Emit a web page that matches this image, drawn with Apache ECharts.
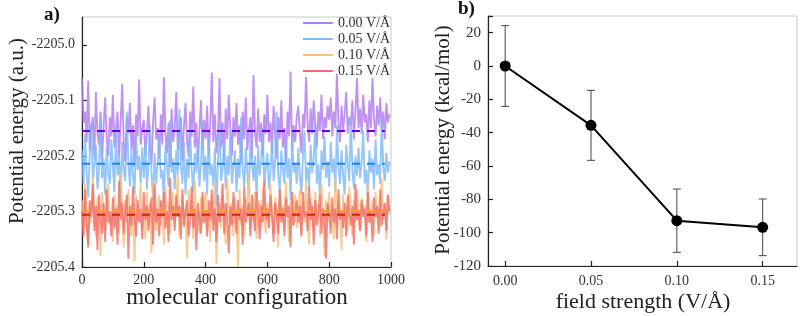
<!DOCTYPE html>
<html><head><meta charset="utf-8">
<script src="https://cdn.jsdelivr.net/npm/echarts@6/dist/echarts.min.js"></script>
<style>html,body{margin:0;padding:0;background:#fff}#c{width:800px;height:316px}</style>
</head><body><div id="c"></div>
<script>
// ---- Panel a): energies stored as thousandths of a.u. below -2205.000 (sampled every 5 configurations)
const base = -2205.0;
const stepConf = 5;
const e000 = [60,140,120,175,65,190,150,130,205,85,160,180,120,210,145,95,170,200,130,165,
90,185,150,120,200,140,70,175,210,130,160,105,190,145,220,125,165,62,180,150,
135,200,160,110,185,215,140,95,170,150,205,125,180,58,160,195,140,220,115,175,
150,85,190,160,130,210,145,105,175,200,120,165,75,185,140,215,155,100,190,135,
170,110,200,145,50,175,125,195,160,60,185,140,210,115,170,90,150,200,130,165,
105,180,145,215,120,170,95,190,155,130,205,55,160,185,115,175,140,200,125,160,
90,175,140,195,110,160,205,130,170,100,185,150,215,120,165,48,190,145,175,130,
110,160,195,125,150,58,140,175,115,160,100,145,185,120,155,90,170,130,150,110,
135,95,165,120,150,52,140,175,110,155,125,85,160,130,145,100,170,120,60,150,
115,160,90,140,125,175,100,150,60,135,165,110,145,95,155,120,170,105,140,125];
const e005 = [190,250,160,230,275,200,140,245,215,180,260,225,130,240,205,270,185,230,250,170,
220,265,150,235,200,280,175,225,245,120,210,255,190,235,270,160,225,200,250,185,
240,175,260,215,145,230,280,195,250,210,165,240,225,285,180,215,255,135,230,205,
260,190,235,115,220,250,175,270,205,240,150,225,265,195,230,180,255,215,140,245,
200,270,165,235,215,255,185,290,210,140,245,225,175,260,200,235,155,250,220,190,
265,205,240,130,225,255,185,230,270,160,215,245,200,275,180,235,210,150,255,220,
195,260,230,170,245,210,120,235,265,190,225,250,175,240,205,280,160,230,215,250,
185,235,270,200,155,245,220,260,180,230,205,140,250,215,275,190,225,165,240,210,
255,175,230,205,265,145,220,250,190,235,270,180,215,245,130,225,260,200,235,185,
240,210,155,250,225,275,190,230,205,260,170,235,215,250,135,220,245,195,230,210];
const e010 = [280,330,250,310,360,285,320,240,300,345,275,315,380,265,305,335,290,250,325,300,
355,270,310,290,340,230,305,365,280,320,260,300,345,285,390,270,315,295,250,330,
300,350,265,320,285,375,245,310,335,290,270,325,300,360,255,315,285,340,300,265,
320,290,230,345,305,270,330,295,385,260,310,280,350,245,315,300,340,275,325,290,
265,335,300,355,280,320,250,395,305,285,330,270,310,360,240,300,325,285,345,275,
310,400,260,325,290,345,275,305,230,335,295,320,265,350,300,280,330,255,310,340,
285,320,250,305,340,275,300,365,260,315,290,335,245,310,355,280,325,295,270,330,
300,260,340,285,320,245,310,360,275,300,330,265,315,290,345,250,305,380,280,320,
265,310,295,350,240,325,285,305,370,270,315,290,335,255,300,345,280,320,260,310,
335,275,305,290,355,250,320,300,280,345,265,310,295,330,240,315,285,350,270,305];
const e015 = [300,345,260,325,365,280,310,250,335,290,370,270,315,340,285,355,260,320,300,345,
275,330,295,360,245,315,285,340,300,270,385,290,325,255,310,345,280,320,295,350,
265,315,290,335,300,275,360,250,320,295,345,280,310,265,330,300,355,240,315,290,
335,270,310,290,350,260,325,300,280,345,315,255,330,295,370,285,310,340,265,320,
300,345,280,315,260,335,295,355,270,320,300,250,340,285,310,375,290,325,265,305,
340,280,315,295,360,255,320,300,285,345,270,310,335,265,300,350,290,320,245,315,
295,330,270,310,355,285,305,340,260,320,295,345,275,310,290,365,265,325,300,280,
320,290,345,265,310,300,335,255,315,290,360,280,325,300,270,340,295,310,385,285,
305,340,275,320,295,350,260,315,300,330,285,345,270,305,325,290,360,250,315,300,
335,280,310,295,345,265,320,300,355,275,310,290,340,260,325,305,285,335,270,300];
const seriesNames = ['0.00 V/Å','0.05 V/Å','0.10 V/Å','0.15 V/Å'];
const meanEnergies = [-2205.155, -2205.214, -2205.299, -2205.306];
const meanSpan = [0, 980];
const yTicksA = [-2205.4, -2205.3, -2205.2, -2205.1, -2205.0];
const xTicksA = [0, 200, 400, 600, 800, 1000];

// ---- Panel b)
const fieldStrength = [0.00, 0.05, 0.10, 0.15];
const relEnergy = [0, -35.6, -92.8, -96.8];
const relErr = [24.2, 21.0, 19.0, 17.0];
const xTicksB = [0.00, 0.05, 0.10, 0.15];

const lineColors = ['#b27bf0', '#7cbaf6', '#f8c07a', '#f26e6e'];
const meanColors = ['#6a00e0', '#1c86e2', '#f6a21e', '#e4181a'];
const serif = '"Liberation Serif","Times New Roman",serif';

function toSeries(arr){ return arr.map((v,i)=>[i*stepConf, base - v/1000]); }
const rawData = [e000, e005, e010, e015].map(toSeries);

const series = [];
rawData.forEach((d,i)=>{
  series.push({name: seriesNames[i], type:'line', xAxisIndex:0, yAxisIndex:0, data:d,
    showSymbol:false, symbol:'none', lineStyle:{width:1.9, color:lineColors[i], opacity:0.82},
    itemStyle:{color:lineColors[i]}, z: 2, animation:false, silent:true});
});
meanEnergies.forEach((m,i)=>{
  series.push({type:'line', xAxisIndex:0, yAxisIndex:0, data:[[meanSpan[0],m],[meanSpan[1],m]],
    symbol:'none', lineStyle:{width:2, color:meanColors[i], type:[8,7]}, z:5, animation:false, silent:true});
});
series.push({type:'custom', xAxisIndex:1, yAxisIndex:1, z:3,
  data: fieldStrength.map((x,i)=>[x, relEnergy[i]-relErr[i], relEnergy[i]+relErr[i]]),
  renderItem: function(params, api){
    const lo = api.coord([api.value(0), api.value(1)]);
    const hi = api.coord([api.value(0), api.value(2)]);
    const w = 4;
    const st = {stroke:'#444', lineWidth:1};
    return {type:'group', children:[
      {type:'line', shape:{x1:lo[0],y1:lo[1],x2:hi[0],y2:hi[1]}, style:st},
      {type:'line', shape:{x1:lo[0]-w,y1:lo[1],x2:lo[0]+w,y2:lo[1]}, style:st},
      {type:'line', shape:{x1:hi[0]-w,y1:hi[1],x2:hi[0]+w,y2:hi[1]}, style:st}
    ]};
  }, animation:false, silent:true});
series.push({type:'line', xAxisIndex:1, yAxisIndex:1, z:4,
  data: fieldStrength.map((x,i)=>[x, relEnergy[i]]),
  symbol:'circle', symbolSize:11, lineStyle:{color:'#000', width:2}, itemStyle:{color:'#000'},
  animation:false, silent:true});

const axisLineStyle = {show:true, onZero:false, lineStyle:{color:'#222', width:1.2}};
const tickStyle = {show:true, inside:true, length:5, lineStyle:{color:'#222', width:1.2}};
const labelFont = {fontFamily:serif, fontSize:14, color:'#333'};

const option = {
  backgroundColor:'#fff',
  animation:false,
  grid:[
    {left:82, top:17, width:309, height:250, show:true, borderColor:'#c8c8c8', borderWidth:1},
    {left:488, top:16, width:309, height:250, show:true, borderColor:'#c8c8c8', borderWidth:1}
  ],
  legend:{data:seriesNames, right:410, top:16, orient:'vertical', itemGap:2, itemWidth:30, itemHeight:2,
    icon:'rect', textStyle:{fontFamily:serif, fontSize:14, color:'#333'}, align:'left', padding:0},
  xAxis:[
    {gridIndex:0, type:'value', min:0, max:1000, axisLine:axisLineStyle,
      axisTick:Object.assign({}, tickStyle, {customValues:xTicksA}),
      axisLabel:Object.assign({}, labelFont, {customValues:xTicksA, margin:6, formatter:v=>String(v)}), splitLine:{show:false}},
    {gridIndex:1, type:'value', min:-0.01, max:0.17, axisLine:axisLineStyle,
      axisTick:Object.assign({}, tickStyle, {customValues:xTicksB}),
      axisLabel:Object.assign({}, labelFont, {customValues:xTicksB, margin:8, formatter:v=>v.toFixed(2)}), splitLine:{show:false}}
  ],
  yAxis:[
    {gridIndex:0, type:'value', min:-2205.4, max:-2204.95, axisLine:axisLineStyle,
      axisTick:Object.assign({}, tickStyle, {customValues:yTicksA}),
      axisLabel:Object.assign({}, labelFont, {customValues:yTicksA, margin:7, formatter:v=>v.toFixed(1)}), splitLine:{show:false}},
    {gridIndex:1, type:'value', min:-120, max:30, interval:20, axisLine:axisLineStyle,
      axisTick:tickStyle,
      axisLabel:Object.assign({}, labelFont, {fontSize:15, margin:7, formatter:v=> (Math.abs(v%20)<1e-9 ? String(v) : '')}), splitLine:{show:false}}
  ],
  graphic:[
    {type:'text', left:44, top:6, style:{text:'a)', font:'bold 19px '+serif, fill:'#111'}},
    {type:'text', left:458, top:0, style:{text:'b)', font:'bold 19px '+serif, fill:'#111'}},
    {type:'text', x:17, y:131, rotation:Math.PI/2, style:{text:'Potential energy (a.u.)', font:'21px '+serif, fill:'#222', align:'center', verticalAlign:'middle'}},
    {type:'text', x:237, y:298, style:{text:'molecular configuration', font:'23px '+serif, fill:'#222', align:'center', verticalAlign:'middle'}},
    {type:'text', x:443, y:140, rotation:Math.PI/2, style:{text:'Potential energy (kcal/mol)', font:'21px '+serif, fill:'#222', align:'center', verticalAlign:'middle'}},
    {type:'text', x:643, y:302, style:{text:'field strength (V/Å)', font:'22px '+serif, fill:'#222', align:'center', verticalAlign:'middle'}}
  ],
  series: series
};
const chart = echarts.init(document.getElementById('c'), null, {renderer:'canvas'});
chart.setOption(option);
</script></body></html>
